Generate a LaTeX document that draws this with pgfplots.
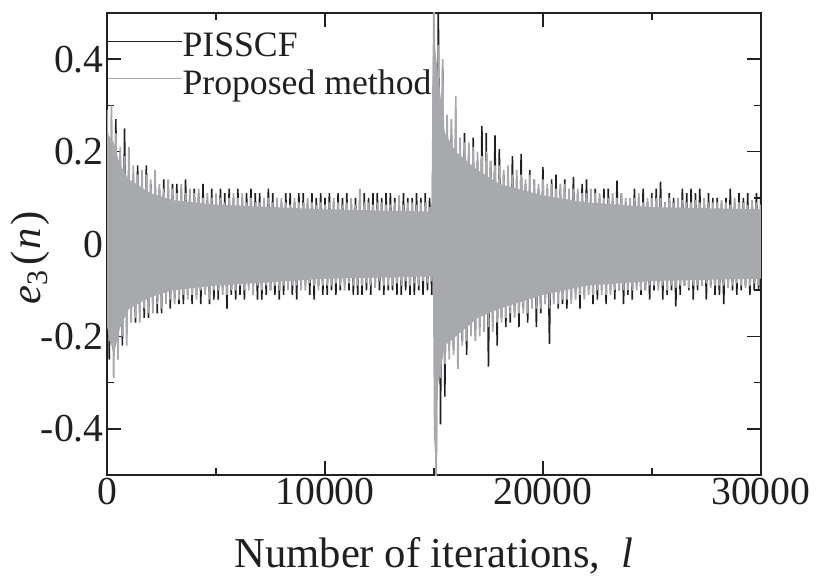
\documentclass[border=0pt]{standalone}
\usepackage{fontspec}
\setmainfont{Liberation Serif}
\usepackage{pgfplots}
\pgfplotsset{compat=1.18}
\definecolor{blk}{RGB}{35,31,32}
\definecolor{gry}{RGB}{167,169,172}
\begin{document}
\begin{tikzpicture}
\begin{axis}[name=ax, scale only axis, width=329.5pt, height=233pt,
 xmin=0, xmax=30000, ymin=-0.5, ymax=0.5,
 xtick={0,10000,20000,30000}, minor xtick={5000,15000,25000},
 xticklabels={0,10000,20000,30000}, scaled x ticks=false,
 ytick={-0.4,-0.2,0,0.2,0.4}, minor ytick={-0.3,-0.1,0.1,0.3},
 yticklabels={-0.4,-0.2,0,0.2,0.4}, scaled y ticks=false,
 tick align=inside, major tick length=7pt, minor tick length=3.5pt,
 tick style={color=blk, line width=0.75pt},
 axis line style={color=blk, line width=0.75pt},
 tick label style={font=\fontsize{20}{24}\selectfont, text=blk},
 yticklabel style={inner xsep=1.5pt},
 xticklabel style={inner ysep=1.5pt},
 xlabel={Number of iterations,\ \ \textit{l}},
 xlabel style={font=\fontsize{21.5}{24}\selectfont, text=blk, at={(axis description cs:0.5,0)}, anchor=base, yshift=-46.5pt},
 ylabel={\textit{e}\textsubscript{3}\kern2pt(\kern1pt\textit{n}\kern1.5pt)},
 ylabel style={font=\fontsize{21.5}{24}\selectfont, text=blk, at={(axis description cs:-0.117,0.47)}, anchor=center},
 legend style={at={(0,1)}, anchor=north west, yshift=-10pt, draw=none, fill=none, inner sep=0pt, row sep=5pt, font=\fontsize{18}{20}\selectfont, text=blk, nodes={inner sep=0pt}},
 legend cell align=left,
 legend image code/.code={\draw[#1, line width=0.8pt] (0pt,2.5pt) -- (37pt,2.5pt);},
]
\addplot[color=blk, line width=0.8pt] coordinates {
(0,.26)(100,-.25)(200,.22)(300,-.23)(400,.27)(500,-.20)(600,.19)(700,-.22)(800,.25)(900,-.18)
(1000,.18)(1100,-.16)(1200,.15)(1300,-.17)(1400,.17)(1500,-.15)(1600,.14)(1700,-.16)(1800,.17)(1900,-.16)
(2000,.13)(2100,-.14)(2200,.14)(2300,-.15)(2400,.12)(2500,-.15)(2600,.14)(2700,-.12)(2800,.13)(2900,-.14)
(3000,.13)(3100,-.12)(3200,.13)(3300,-.13)(3400,.12)(3500,-.13)(3600,.14)(3700,-.11)(3800,.11)(3900,-.13)
(4000,.12)(4100,-.11)(4200,.11)(4300,-.13)(4400,.13)(4500,-.10)(4600,.10)(4700,-.13)(4800,.12)(4900,-.12)
(5000,.10)(5100,-.12)(5200,.12)(5300,-.10)(5400,.11)(5500,-.14)(5600,.12)(5700,-.11)(5800,.10)(5900,-.12)
(6000,.12)(6100,-.11)(6200,.10)(6300,-.12)(6400,.11)(6500,-.09)(6600,.12)(6700,-.10)(6800,.11)(6900,-.12)
(7000,.11)(7100,-.12)(7200,.09)(7300,-.11)(7400,.12)(7500,-.10)(7600,.11)(7700,-.11)(7800,.09)(7900,-.12)
(8000,.09)(8100,-.11)(8200,.11)(8300,-.09)(8400,.11)(8500,-.11)(8600,.09)(8700,-.12)(8800,.11)(8900,-.09)
(9000,.11)(9100,-.09)(9200,.09)(9300,-.11)(9400,.11)(9500,-.12)(9600,.10)(9700,-.09)(9800,.11)(9900,-.11)
(10000,.10)(10100,-.11)(10200,.11)(10300,-.10)(10400,.09)(10500,-.11)(10600,.11)(10700,-.10)(10800,.10)(10900,-.09)
(11000,.11)(11100,-.10)(11200,.09)(11300,-.11)(11400,.10)(11500,-.11)(11600,.10)(11700,-.11)(11800,.11)(11900,-.10)
(12000,.10)(12100,-.11)(12200,.11)(12300,-.09)(12400,.11)(12500,-.10)(12600,.10)(12700,-.11)(12800,.11)(12900,-.10)
(13000,.11)(13100,-.10)(13200,.10)(13300,-.11)(13400,.09)(13500,-.11)(13600,.11)(13700,-.10)(13800,.10)(13900,-.11)
(14000,.10)(14100,-.11)(14200,.11)(14300,-.10)(14400,.10)(14500,-.11)(14600,.11)(14700,-.10)(14800,.10)(14900,-.11)
(15000,.45)(15100,-.48)(15200,.52)(15300,-.39)(15400,.38)(15500,-.33)(15600,.27)(15700,-.22)(15800,.25)(15900,-.23)
(16000,.25)(16100,-.22)(16200,.21)(16300,-.21)(16400,.24)(16500,-.24)(16600,.20)(16700,-.19)(16800,.23)(16900,-.20)
(17000,.18)(17100,-.18)(17200,.255)(17300,-.18)(17400,.24)(17500,-.265)(17600,.18)(17700,-.17)(17800,.235)(17900,-.22)
(18000,.205)(18100,-.16)(18200,.15)(18300,-.18)(18400,.16)(18500,-.17)(18600,.19)(18700,-.15)(18800,.14)(18900,-.18)
(19000,.195)(19100,-.14)(19200,.13)(19300,-.17)(19400,.16)(19500,-.13)(19600,.14)(19700,-.18)(19800,.12)(19900,-.15)
(20000,.167)(20100,-.13)(20200,.12)(20300,-.216)(20400,.14)(20500,-.12)(20600,.15)(20700,-.14)(20800,.12)(20900,-.13)
(21000,.14)(21100,-.14)(21200,.11)(21300,-.12)(21400,.145)(21500,-.11)(21600,.11)(21700,-.14)(21800,.13)(21900,-.11)
(22000,.14)(22100,-.10)(22200,.10)(22300,-.13)(22400,.12)(22500,-.12)(22600,.10)(22700,-.10)(22800,.12)(22900,-.13)
(23000,.12)(23100,-.10)(23200,.10)(23300,-.12)(23400,.137)(23500,-.10)(23600,.11)(23700,-.13)(23800,.09)(23900,-.11)
(24000,.09)(24100,-.12)(24200,.12)(24300,-.09)(24400,.10)(24500,-.11)(24600,.12)(24700,-.10)(24800,.09)(24900,-.12)
(25000,.11)(25100,-.10)(25200,.12)(25300,-.09)(25400,.135)(25500,-.12)(25600,.09)(25700,-.11)(25800,.11)(25900,-.10)
(26000,.10)(26100,-.135)(26200,.09)(26300,-.11)(26400,.12)(26500,-.09)(26600,.11)(26700,-.10)(26800,.12)(26900,-.12)
(27000,.11)(27100,-.10)(27200,.12)(27300,-.09)(27400,.09)(27500,-.12)(27600,.11)(27700,-.09)(27800,.10)(27900,-.11)
(28000,.10)(28100,-.11)(28200,.09)(28300,-.13)(28400,.10)(28500,-.09)(28600,.12)(28700,-.10)(28800,.09)(28900,-.11)
(29000,.11)(29100,-.10)(29200,.10)(29300,-.09)(29400,.11)(29500,-.11)(29600,.09)(29700,-.10)(29800,.11)(29900,-.10)(30000,.10)
};
\addlegendentry{PISSCF}
\addplot[fill=gry, draw=none, forget plot] coordinates {
(0,.24)(300,.22)(600,.17)(1000,.14)(2000,.11)(3000,.095)(5000,.085)(10000,.075)(14950,.07)(15000,.45)(15200,.36)(15500,.24)(16000,.20)(17000,.16)(18000,.13)(20000,.105)(22000,.09)(25000,.08)(30000,.075)
(30000,-.075)(25000,-.08)(22000,-.09)(20000,-.11)(18000,-.14)(17000,-.16)(16000,-.20)(15500,-.22)(15200,-.30)(15000,-.45)(14950,-.07)(10000,-.075)(5000,-.09)(3000,-.10)(2000,-.115)(1000,-.14)(600,-.18)(300,-.24)(0,-.18)
} -- cycle;
\addplot[color=gry, line width=0.9pt] coordinates {
(0,.29)(100,-.21)(200,.30)(300,-.29)(400,.24)(500,-.25)(600,.21)(700,-.20)(800,.19)(900,-.22)
(1000,.21)(1100,-.17)(1200,.17)(1300,-.16)(1400,.15)(1500,-.17)(1600,.16)(1700,-.14)(1800,.15)(1900,-.15)
(2000,.14)(2100,-.15)(2200,.16)(2300,-.13)(2400,.13)(2500,-.14)(2600,.12)(2700,-.13)(2800,.14)(2900,-.12)
(3000,.12)(3100,-.13)(3200,.11)(3300,-.12)(3400,.13)(3500,-.11)(3600,.11)(3700,-.12)(3800,.12)(3900,-.11)
(4000,.11)(4100,-.12)(4200,.12)(4300,-.10)(4400,.10)(4500,-.11)(4600,.11)(4700,-.12)(4800,.10)(4900,-.10)
(5000,.11)(5100,-.10)(5200,.10)(5300,-.11)(5400,.09)(5500,-.11)(5600,.10)(5700,-.10)(5800,.11)(5900,-.10)
(6000,.10)(6100,-.09)(6200,.11)(6300,-.10)(6400,.09)(6500,-.10)(6600,.10)(6700,-.11)(6800,.09)(6900,-.09)
(7000,.09)(7100,-.10)(7200,.10)(7300,-.09)(7400,.10)(7500,-.10)(7600,.09)(7700,-.09)(7800,.10)(7900,-.10)
(8000,.10)(8100,-.09)(8200,.09)(8300,-.10)(8400,.085)(8500,-.09)(8600,.10)(8700,-.09)(8800,.09)(8900,-.10)
(9000,.09)(9100,-.10)(9200,.10)(9300,-.085)(9400,.09)(9500,-.09)(9600,.085)(9700,-.10)(9800,.09)(9900,-.09)
(10000,.085)(10100,-.09)(10200,.09)(10300,-.09)(10400,.10)(10500,-.085)(10600,.09)(10700,-.09)(10800,.085)(10900,-.10)
(11000,.09)(11100,-.085)(11200,.10)(11300,-.09)(11400,.085)(11500,-.09)(11600,.12)(11700,-.09)(11800,.09)(11900,-.085)
(12000,.09)(12100,-.09)(12200,.085)(12300,-.095)(12400,.09)(12500,-.08)(12600,.09)(12700,-.09)(12800,.085)(12900,-.09)
(13000,.085)(13100,-.09)(13200,.09)(13300,-.085)(13400,.105)(13500,-.09)(13600,.085)(13700,-.08)(13800,.09)(13900,-.09)
(14000,.09)(14100,-.085)(14200,.085)(14300,-.09)(14400,.09)(14500,-.08)(14600,.09)(14700,-.085)(14800,.08)(14900,-.08)
(15000,.52)(15100,-.52)(15200,.43)(15300,-.29)(15400,.40)(15500,-.26)(15600,.28)(15700,-.25)(15800,.27)(15900,-.24)
(16000,.32)(16100,-.27)(16200,.23)(16300,-.22)(16400,.22)(16500,-.21)(16600,.22)(16700,-.20)(16800,.21)(16900,-.21)
(17000,.20)(17100,-.20)(17200,.19)(17300,-.19)(17400,.20)(17500,-.18)(17600,.18)(17700,-.19)(17800,.17)(17900,-.17)
(18000,.17)(18100,-.17)(18200,.16)(18300,-.16)(18400,.17)(18500,-.15)(18600,.15)(18700,-.16)(18800,.16)(18900,-.15)
(19000,.15)(19100,-.15)(19200,.14)(19300,-.15)(19400,.15)(19500,-.14)(19600,.14)(19700,-.14)(19800,.13)(19900,-.14)
(20000,.14)(20100,-.13)(20200,.13)(20300,-.14)(20400,.13)(20500,-.13)(20600,.12)(20700,-.13)(20800,.13)(20900,-.12)
(21000,.13)(21100,-.12)(21200,.12)(21300,-.13)(21400,.12)(21500,-.12)(21600,.12)(21700,-.11)(21800,.11)(21900,-.12)
(22000,.11)(22100,-.11)(22200,.12)(22300,-.11)(22400,.11)(22500,-.10)(22600,.11)(22700,-.11)(22800,.10)(22900,-.11)
(23000,.10)(23100,-.11)(23200,.11)(23300,-.10)(23400,.10)(23500,-.10)(23600,.11)(23700,-.10)(23800,.10)(23900,-.10)
(24000,.10)(24100,-.10)(24200,.10)(24300,-.10)(24400,.11)(24500,-.10)(24600,.09)(24700,-.10)(24800,.10)(24900,-.09)
(25000,.10)(25100,-.09)(25200,.10)(25300,-.10)(25400,.10)(25500,-.09)(25600,.09)(25700,-.10)(25800,.10)(25900,-.09)
(26000,.09)(26100,-.095)(26200,.10)(26300,-.09)(26400,.095)(26500,-.09)(26600,.09)(26700,-.095)(26800,.09)(26900,-.09)
(27000,.095)(27100,-.09)(27200,.09)(27300,-.09)(27400,.10)(27500,-.085)(27600,.09)(27700,-.095)(27800,.09)(27900,-.09)
(28000,.09)(28100,-.09)(28200,.095)(28300,-.09)(28400,.09)(28500,-.095)(28600,.085)(28700,-.09)(28800,.10)(28900,-.085)
(29000,.09)(29100,-.09)(29200,.09)(29300,-.095)(29400,.085)(29500,-.09)(29600,.095)(29700,-.085)(29800,.09)(29900,-.09)(30000,.085)
};
\addlegendentry{Proposed method}
\end{axis}
\path (ax.south west) ++(-54pt,-51.5pt) coordinate (bl);
\path (ax.north east) ++(25pt,6.5pt) coordinate (tr);
\path (bl) rectangle (tr);
\end{tikzpicture}
\end{document}
